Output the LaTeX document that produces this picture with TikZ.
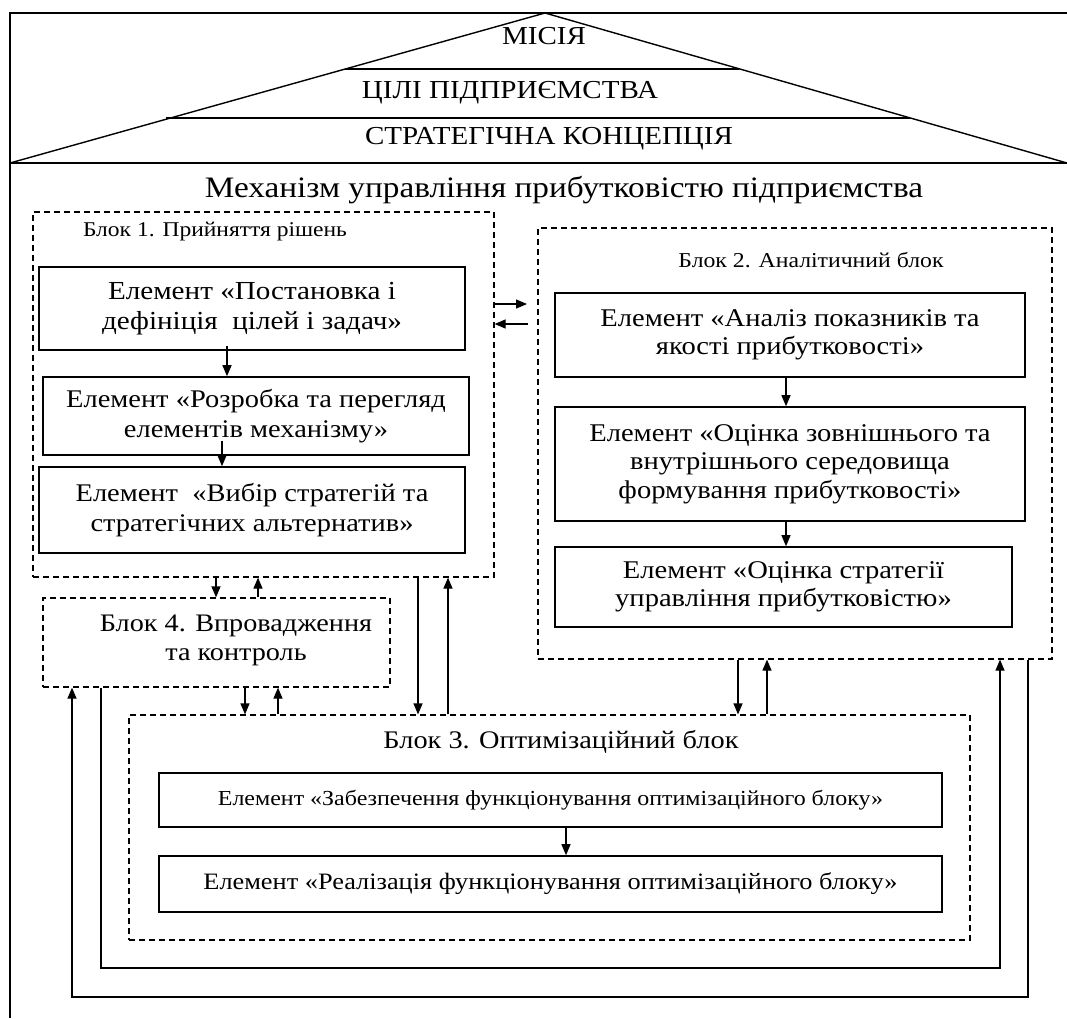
\documentclass[tikz,border=0pt]{standalone}
\usepackage{fontspec}
\setmainfont{Liberation Serif}[FakeStretch=1.12]
\usetikzlibrary{arrows.meta}

\begin{document}
\begin{tikzpicture}[x=1pt,y=-1pt,
  ramka/.style={line width=1.4pt},
  blok/.style={draw,line width=1.2pt,dash pattern=on 6pt off 4pt},
  elem/.style={draw,line width=1.6pt,align=center,inner sep=0pt,font=\fontsize{25.5}{28.5}\selectfont},
  elemvuz/.style={elem,font=\fontsize{21.4}{24}\selectfont},
  strilka/.style={solid,line width=1.2pt,-{Triangle[length=11pt,width=9pt]}}]%
\useasboundingbox (0,0) rectangle (1067,1018);%
% dakh
\draw[ramka] (1067,13) -- (10,13) -- (10,1018);%
\draw[ramka] (10,163) -- (1067,163);%
\draw[ramka] (10,163) -- (545,13) -- (1067,163);%
\draw[ramka] (345,69) -- (739,69);%
\draw[ramka] (166,118) -- (910,118);%
\node[font=\fontsize{25.9}{28}\selectfont] (misia) at (544,36) {МІСІЯ};%
\node[font=\fontsize{25.9}{28}\selectfont] (cili) at (510,93) {ЦІЛІ ПІДПРИЄМСТВА};%
\node[font=\fontsize{25.9}{28}\selectfont] (koncepcia) at (549,139) {СТРАТЕГІЧНА КОНЦЕПЦІЯ};%
\node[font=\fontsize{29.7}{32}\selectfont] (mekhanizm) at (564,190) {Механізм управління прибутковістю підприємства};%
% bloky
\node[blok,minimum width=461pt,minimum height=365pt] (blok1) at (263.5,394.5) {};%
\node[blok,minimum width=514pt,minimum height=431pt] (blok2) at (795,443.5) {};%
\node[blok,minimum width=347pt,minimum height=89pt] (blok4) at (216.5,642.5) {};%
\node[blok,minimum width=841pt,minimum height=225pt] (blok3) at (549.5,827.5) {};%
\node[font=\fontsize{21}{24}\selectfont] (nazva1) at (215,232) {Блок 1. Прийняття рішень};%
\node[font=\fontsize{21.2}{24}\selectfont] (nazva2) at (811,260) {Блок 2. Аналітичний блок};%
\node[font=\fontsize{25.2}{29}\selectfont,align=center] (nazva4) at (236,640) {Блок 4. Впровадження\\та контроль};%
\node[font=\fontsize{25.3}{28}\selectfont] (nazva3) at (561,742) {Блок 3. Оптимізаційний блок};%
% elementy
\node[elem,font=\fontsize{26}{30}\selectfont,minimum width=426pt,minimum height=83pt] (e11) at (252,308.5) {Елемент «Постановка і\\дефініція~ цілей і задач»};%
\node[elem,font=\fontsize{25.4}{30}\selectfont,minimum width=426pt,minimum height=78pt] (e12) at (256,416) {Елемент «Розробка та перегляд\\елементів механізму»};%
\node[elem,font=\fontsize{25.4}{30}\selectfont,minimum width=426pt,minimum height=86pt] (e13) at (252,510) {Елемент~ «Вибір стратегій та\\стратегічних альтернатив»};%
\node[elem,minimum width=470pt,minimum height=84pt] (e21) at (790,335) {Елемент «Аналіз показників та\\якості прибутковості»};%
\node[elem,minimum width=470pt,minimum height=114pt] (e22) at (790,464) {Елемент «Оцінка зовнішнього та\\внутрішнього середовища\\формування прибутковості»};%
\node[elem,minimum width=457pt,minimum height=80pt] (e23) at (783.5,587) {Елемент «Оцінка стратегії\\управління прибутковістю»};%
\node[elemvuz,minimum width=783pt,minimum height=54pt] (e31) at (550.5,800) {Елемент «Забезпечення функціонування оптимізаційного блоку»};%
\node[elemvuz,font=\fontsize{23.5}{26}\selectfont,minimum width=783pt,minimum height=56pt] (e32) at (550.5,884) {Елемент «Реалізація функціонування оптимізаційного блоку»};%
% strilky vseredyni blokiv
\draw[strilka] ([yshift=5pt]e11.south -| 227,0) -- (e12.north -| 227,0);%
\draw[strilka] ([yshift=15pt]e12.south -| 222,0) -- (e13.north -| 222,0);%
\draw[strilka] (e21.south -| 786,0) -- (e22.north -| 786,0);%
\draw[strilka] (e22.south -| 786,0) -- (e23.north -| 786,0);%
\draw[strilka] (e31.south -| 566,0) -- (e32.north -| 566,0);%
% strilky mizh blokamy
\coordinate (pravo) at (527,304);%
\coordinate (vlivo) at (528,324);%
\draw[strilka] (blok1.east |- pravo) -- (pravo);%
\draw[strilka] (vlivo) -- (blok1.east |- vlivo);%
\draw[strilka] (blok1.south -| 216,0) -- (blok4.north -| 216,0);%
\draw[strilka] (blok4.north -| 258,0) -- (blok1.south -| 258,0);%
\draw[strilka] (blok4.south -| 245,0) -- (blok3.north -| 245,0);%
\draw[strilka] (blok3.north -| 278,0) -- (blok4.south -| 278,0);%
\draw[strilka] (blok1.south -| 418,0) -- (blok3.north -| 418,0);%
\draw[strilka] (blok3.north -| 448,0) -- (blok1.south -| 448,0);%
\draw[strilka] (blok2.south -| 738,0) -- (blok3.north -| 738,0);%
\draw[strilka] (blok3.north -| 767,0) -- (blok2.south -| 767,0);%
% zvorotni zvjazky
\draw[strilka] (blok4.south -| 101,0) -- (101,968) -- (1000,968) -- (blok2.south -| 1000,0);%
\draw[strilka] (blok2.south -| 1028,0) -- (1028,997) -- (72,997) -- (blok4.south -| 72,0);%
\end{tikzpicture}
\end{document}
